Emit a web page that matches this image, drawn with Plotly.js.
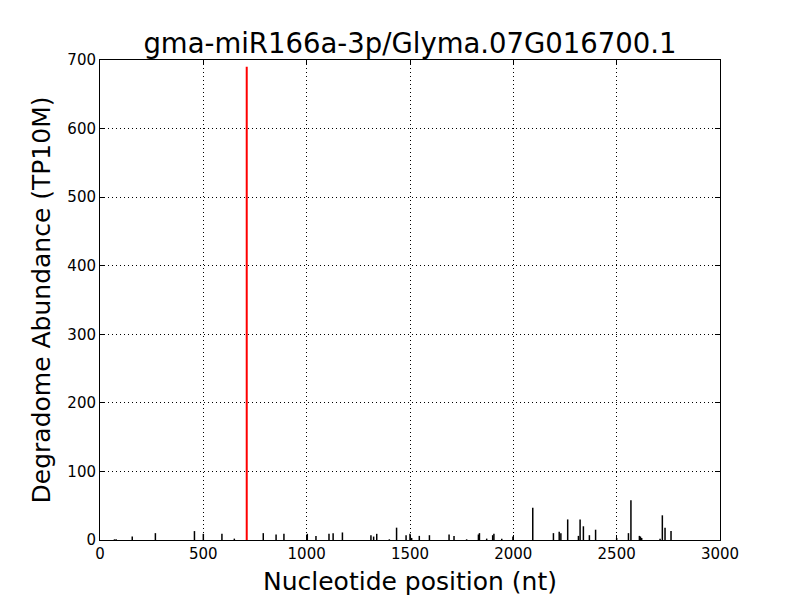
<!DOCTYPE html>
<html>
<head>
<meta charset="utf-8">
<script src="https://cdn.plot.ly/plotly-3.0.1.min.js"></script>
<style>html,body{margin:0;padding:0;background:#fff;}#chart{width:800px;height:600px;}</style>
</head>
<body>
<div id="chart"></div>
<script>
// Cleavage-site positions (nt) and degradome abundance (TP10M)
const positions = [70, 78, 156, 268, 457, 500, 590, 650, 790, 852, 890, 1003, 1045, 1108, 1128, 1173,
  1311, 1324, 1339, 1400, 1435, 1481, 1500, 1508, 1545, 1594, 1689, 1713, 1774, 1831, 1836, 1871,
  1900, 1906, 1944, 1998, 2094, 2194, 2222, 2230, 2263, 2315, 2323, 2339, 2368, 2398, 2500,
  2557, 2569, 2610, 2615, 2621, 2710, 2721, 2734, 2763];
const abundances = [1, 1, 5, 10, 13, 9, 9, 2, 10, 8, 9, 9, 6, 9, 10, 11,
  7, 5, 9, 1, 18, 7, 9, 3, 6, 7, 8, 6, 1, 8, 10, 2,
  7, 9, 2, 5, 47, 10, 12, 10, 30, 6, 30, 20, 7, 15, 3,
  10, 58, 6, 5, 3, 2, 36, 18, 13];
// Target (miRNA cleavage) site
const targetPos = [710];
const targetVal = [690];

function segs(xs, ys) {
  const x = [], y = [];
  xs.forEach((p, i) => { x.push(p, p, null); y.push(0, ys[i], null); });
  return {x, y};
}
const s1 = segs(positions, abundances);
const s2 = segs(targetPos, targetVal);

const data = [
  {x: s1.x, y: s1.y, type: 'scatter', mode: 'lines', line: {color: '#000', width: 1.5}, hoverinfo: 'skip'},
  {x: s2.x, y: s2.y, type: 'scatter', mode: 'lines', line: {color: '#ff0000', width: 2}, hoverinfo: 'skip'}
];

const axisCommon = {
  showline: true, linecolor: '#000', linewidth: 1, mirror: 'ticks',
  ticks: 'inside', ticklen: 5, tickcolor: '#000', tickwidth: 1,
  showgrid: true, gridcolor: '#000', griddash: '1px,3px', gridwidth: 1,
  zeroline: false, tickfont: {size: 15, color: '#000'}
};

const layout = {
  width: 800, height: 600,
  margin: {l: 100, r: 80, t: 60, b: 60},
  paper_bgcolor: '#fff', plot_bgcolor: '#fff',
  font: {family: 'DejaVu Sans, sans-serif', color: '#000'},
  showlegend: false,
  title: {text: 'gma-miR166a-3p/Glyma.07G016700.1', font: {size: 27.5, color: '#000'}, x: 0.5125, xanchor: 'center', y: 0.928, yanchor: 'middle'},
  xaxis: Object.assign({}, axisCommon, {
    range: [0, 3000], tickvals: [0, 500, 1000, 1500, 2000, 2500, 3000],
    title: {text: 'Nucleotide position (nt)', font: {size: 25, color: '#000'}, standoff: 10}
  }),
  yaxis: Object.assign({}, axisCommon, {
    range: [0, 700], tickvals: [0, 100, 200, 300, 400, 500, 600, 700],
    title: {text: 'Degradome Abundance (TP10M)', font: {size: 25, color: '#000'}, standoff: 9}
  })
};

Plotly.newPlot('chart', data, layout, {staticPlot: true, displayModeBar: false});
</script>
</body>
</html>
